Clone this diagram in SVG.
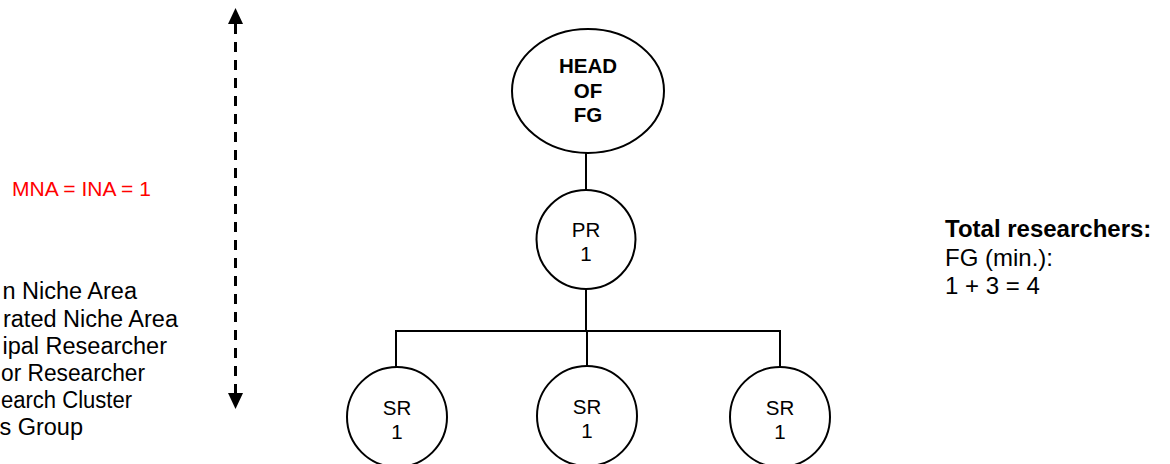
<svg xmlns="http://www.w3.org/2000/svg" width="1170" height="464" viewBox="0 0 1170 464">
<style>
text{font-family:"Liberation Sans",Arial,sans-serif;fill:#000}
.node{fill:#fff;stroke:#000;stroke-width:2}
.lbl{font-size:20.5px;text-anchor:middle}
.bold{font-weight:bold}
.leg{font-size:23.5px;text-anchor:end}
.legs{font-size:23.5px}
.tot{font-size:24px}
.red{fill:#ff0000;font-size:21px}
.conn{stroke:#000;stroke-width:2;fill:none}
</style>
<defs>
<marker id="ah" viewBox="0 0 16 15" refX="0" refY="7.5" markerWidth="16" markerHeight="15" markerUnits="userSpaceOnUse" orient="auto-start-reverse">
<path d="M0,0 L16,7.5 L0,15 z" fill="#000"/>
</marker>
</defs>
<rect width="1170" height="464" fill="#fff"/>
<g id="connectors">
<line class="conn" x1="586" y1="153" x2="586" y2="191"/>
<line class="conn" x1="586" y1="289" x2="586" y2="331"/>
<polyline class="conn" points="396,367 396,331 780,331 780,367"/>
<line class="conn" x1="587" y1="331" x2="587" y2="367"/>
<line x1="235.5" y1="24" x2="235.5" y2="393" stroke="#000" stroke-width="3" stroke-dasharray="10,8" marker-start="url(#ah)" marker-end="url(#ah)"/>
</g>
<g id="head">
<ellipse class="node" cx="588" cy="91" rx="76" ry="62"/>
<text class="lbl bold" x="588" y="73">HEAD</text>
<text class="lbl bold" x="588" y="98">OF</text>
<text class="lbl bold" x="588" y="122">FG</text>
</g>
<g id="pr">
<circle class="node" cx="586" cy="239.5" r="49.5"/>
<text class="lbl" x="586" y="237">PR</text>
<text class="lbl" x="586" y="261">1</text>
</g>
<g id="sr1">
<circle class="node" cx="397" cy="417" r="50"/>
<text class="lbl" x="397" y="415">SR</text>
<text class="lbl" x="397" y="439">1</text>
</g>
<g id="sr2">
<circle class="node" cx="587" cy="416" r="50"/>
<text class="lbl" x="587" y="414">SR</text>
<text class="lbl" x="587" y="438">1</text>
</g>
<g id="sr3">
<circle class="node" cx="780" cy="417" r="50"/>
<text class="lbl" x="780" y="415">SR</text>
<text class="lbl" x="780" y="439">1</text>
</g>
<g id="rule">
<text class="red" x="12" y="196">MNA = INA = 1</text>
</g>
<g id="legend">
<text class="leg" x="137" y="299">n Niche Area</text>
<text class="leg" x="178" y="327">rated Niche Area</text>
<text class="leg" x="167" y="354">ipal Researcher</text>
<text class="legs" x="1" y="381" textLength="144" lengthAdjust="spacingAndGlyphs">or Researcher</text>
<text class="legs" x="1" y="408" textLength="131" lengthAdjust="spacingAndGlyphs">earch Cluster</text>
<text class="leg" x="83" y="435">s Group</text>
</g>
<g id="total">
<text class="tot bold" x="945" y="237">Total researchers:</text>
<text class="tot" x="945" y="266">FG (min.):</text>
<text class="tot" x="945" y="294">1 + 3 = 4</text>
</g>
</svg>
